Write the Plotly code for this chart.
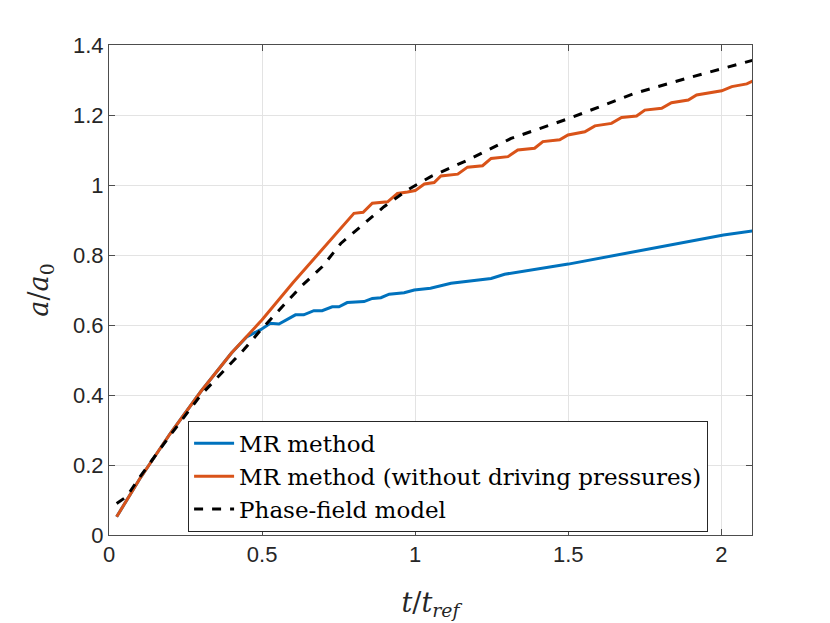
import plotly.graph_objects as go

# MR method
mr_t = [0.025, 0.1, 0.2, 0.3, 0.4, 0.451, 0.494, 0.527, 0.555, 0.609, 0.636, 0.669, 0.696,
        0.729, 0.751, 0.778, 0.833, 0.86, 0.888, 0.915, 0.964, 0.997, 1.05, 1.084, 1.117,
        1.248, 1.292, 1.5, 1.75, 2.007, 2.105]
mr_a = [0.052, 0.16, 0.29, 0.41, 0.52, 0.567, 0.586, 0.605, 0.603, 0.629, 0.629, 0.641, 0.641,
        0.652, 0.652, 0.664, 0.667, 0.676, 0.678, 0.688, 0.692, 0.70, 0.705, 0.711, 0.719,
        0.733, 0.745, 0.774, 0.815, 0.857, 0.869]

# MR method without driving pressures
nodp_t = [0.025, 0.1, 0.2, 0.3, 0.4, 0.5, 0.6, 0.7, 0.80, 0.83, 0.86, 0.91, 0.942, 0.975,
          1.0, 1.03, 1.062, 1.084, 1.139, 1.171, 1.22, 1.248, 1.303, 1.335, 1.39, 1.417,
          1.472, 1.499, 1.554, 1.587, 1.641, 1.674, 1.723, 1.75, 1.805, 1.837, 1.892, 1.919,
          2.001, 2.034, 2.083, 2.105]
nodp_a = [0.052, 0.16, 0.29, 0.41, 0.52, 0.615, 0.72, 0.82, 0.919, 0.922, 0.948, 0.952, 0.976, 0.98,
          0.984, 1.003, 1.007, 1.026, 1.031, 1.051, 1.055, 1.076, 1.081, 1.10, 1.105, 1.124,
          1.129, 1.143, 1.152, 1.169, 1.176, 1.193, 1.197, 1.214, 1.219, 1.235, 1.243, 1.257,
          1.269, 1.281, 1.289, 1.298]

# phase-field model
pf_t = [0.025, 0.058, 0.1, 0.2, 0.3, 0.4, 0.44, 0.5, 0.582, 0.626, 0.697, 0.757, 0.828, 0.898,
        0.975, 1.051, 1.171, 1.313, 1.502, 1.717, 1.9, 2.007, 2.105]
pf_a = [0.09, 0.11, 0.165, 0.285, 0.40, 0.49, 0.529, 0.59, 0.667, 0.709, 0.767, 0.833, 0.886, 0.938,
        0.986, 1.024, 1.071, 1.133, 1.19, 1.262, 1.308, 1.333, 1.357]

x_ticks = [0, 0.5, 1, 1.5, 2]
x_labels = ['0', '0.5', '1', '1.5', '2']
y_ticks = [0, 0.2, 0.4, 0.6, 0.8, 1, 1.2, 1.4]
y_labels = ['0', '0.2', '0.4', '0.6', '0.8', '1', '1.2', '1.4']

fig = go.Figure()

fig.add_trace(go.Scatter(
    x=mr_t, y=mr_a, mode='lines', name='MR method',
    line=dict(color='#0072BD', width=3)
))
fig.add_trace(go.Scatter(
    x=nodp_t, y=nodp_a, mode='lines', name='MR method (without driving pressures)',
    line=dict(color='#D95319', width=3)
))
fig.add_trace(go.Scatter(
    x=pf_t, y=pf_a, mode='lines', name='Phase-field model',
    line=dict(color='black', width=3, dash='dash')
))

axis_style = dict(
    showline=True, mirror='ticks', linecolor='#4d4d4d', linewidth=1,
    ticks='inside', ticklen=6, tickcolor='#4d4d4d',
    showgrid=True, gridcolor='#e3e3e3', gridwidth=1,
    zeroline=False,
    tickfont=dict(family='Liberation Sans, Arial, sans-serif', size=22, color='#262626'),
)

fig.update_xaxes(
    range=[0, 2.1], tickvals=x_ticks, ticktext=x_labels,
    title=dict(text='<i>t</i>/<i>t</i><sub><i>ref</i></sub>',
               font=dict(family='DejaVu Serif, serif', size=27, color='#262626'), standoff=26),
    **axis_style
)
fig.update_yaxes(
    range=[0, 1.4], tickvals=y_ticks, ticktext=y_labels,
    title=dict(text='<i>a</i>/<i>a</i><sub>0</sub>',
               font=dict(family='DejaVu Serif, serif', size=27, color='#262626'), standoff=16),
    **axis_style
)

fig.update_layout(
    width=830, height=623,
    margin=dict(l=101, r=86, t=37, b=96),
    plot_bgcolor='white', paper_bgcolor='white',
    showlegend=True,
    legend=dict(
        x=0.123, y=0.233, xanchor='left', yanchor='top',
        bgcolor='white', bordercolor='#262626', borderwidth=1,
        font=dict(family='DejaVu Serif, serif', size=23, color='black'),
        tracegroupgap=0, itemwidth=40,
    ),
)

fig.write_html("out.html")
